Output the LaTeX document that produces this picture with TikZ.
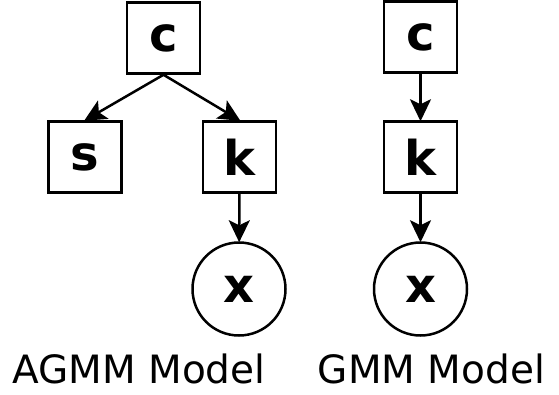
\documentclass[tikz,border=0pt]{standalone}
\usepackage{fontspec}
\setmainfont{DejaVu Sans}
\usetikzlibrary{arrows.meta}
\tikzset{
  var/.style={draw, line width=2.5pt, minimum width=73pt, minimum height=71pt,
    inner sep=0pt, font=\fontsize{48}{48}\selectfont\bfseries},
  obs/.style={draw, circle, line width=2.5pt, minimum size=93pt,
    inner sep=0pt, font=\fontsize{48}{48}\selectfont\bfseries},
  edge/.style={line width=2.5pt, shorten >=-1pt,
    -{Stealth[length=22pt,width=21pt,inset=5pt]}},
  caption/.style={font=\fontsize{39}{39}\selectfont, inner sep=0pt, anchor=base}
}
\begin{document}
\begin{tikzpicture}[x=1pt,y=-1pt]
\useasboundingbox (0,0) rectangle (559,394);
% AGMM model
\node[var] (c1) at (163.5,38) {c};
\node[var] (s1) at (85,157) {s};
\node[var] (k1) at (239.5,157) {k};
\node[obs] (x1) at (239,289) {x};
\draw[edge] (c1.south) -- (s1.north);
\draw[edge] (c1.south) -- (k1.north);
\draw[edge] (k1) -- (x1);
\node[caption] (l1) at (139,383) {AGMM Model};
% GMM model
\node[var] (c2) at (420.5,37) {c};
\node[var] (k2) at (420.5,157) {k};
\node[obs] (x2) at (420.5,289) {x};
\draw[edge] (c2) -- (k2);
\draw[edge] (k2) -- (x2);
\node[caption] (l2) at (431.5,383) {GMM Model};
\end{tikzpicture}
\end{document}
